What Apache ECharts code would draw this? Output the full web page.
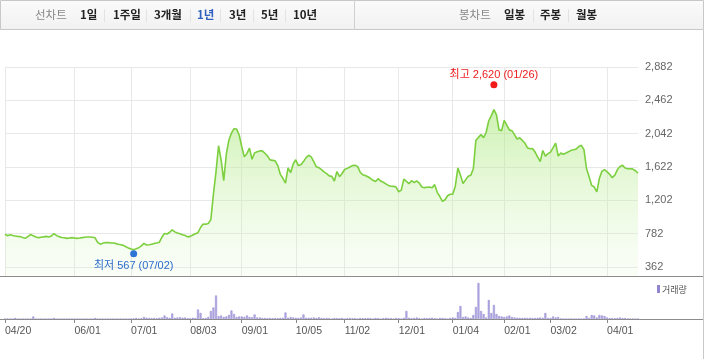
<!DOCTYPE html>
<html>
<head>
<meta charset="utf-8">
<script src="https://cdn.jsdelivr.net/npm/echarts@6/dist/echarts.min.js"></script>
<style>
html,body{margin:0;padding:0;background:#fff;}
#chart{width:705px;height:359px;}
</style>
</head>
<body>
<div id="chart"></div>
<script>
// ---- data ----
const startDate = '2020-04-20';
const endDate = '2021-04-19';
const holidays = ['2020-04-30','2020-05-01','2020-05-05','2020-08-17','2020-09-30','2020-10-01','2020-10-02','2020-10-09','2020-12-25','2020-12-31','2021-01-01','2021-02-11','2021-02-12','2021-03-01'];
const tickDates = ['2020-04-20','2020-06-01','2020-07-01','2020-08-03','2020-09-01','2020-10-05','2020-11-02','2020-12-01','2021-01-04','2021-02-01','2021-03-02','2021-04-01'];
const yTickValues = [362, 782, 1202, 1622, 2042, 2462, 2882];
const prices = [
774,757,770,760,752,748,745,732,725,748,
772,755,740,732,738,742,748,740,752,784,
760,745,735,730,723,728,732,728,723,727,
732,738,740,740,738,730,672,650,662,670,
672,666,664,660,648,642,635,618,600,590,
580,592,606,628,660,640,642,648,660,664,
675,740,785,778,800,830,805,790,782,770,
760,742,748,765,782,795,860,905,900,910,
960,1280,1560,1890,1710,1450,1780,1960,2050,2105,
2100,2025,1880,1750,1790,1860,1720,1800,1815,1825,
1825,1795,1760,1712,1706,1700,1640,1530,1480,1420,
1610,1550,1660,1714,1640,1650,1690,1740,1770,1750,
1690,1625,1614,1590,1560,1538,1510,1504,1446,1565,
1500,1540,1590,1605,1622,1640,1645,1630,1560,1525,
1515,1500,1480,1455,1440,1475,1445,1430,1410,1390,
1380,1378,1370,1310,1330,1470,1440,1412,1450,1425,
1446,1420,1370,1362,1368,1370,1362,1400,1300,1250,
1190,1210,1260,1278,1278,1380,1610,1520,1415,1460,
1505,1517,1600,1960,1995,2030,1992,2060,2205,2270,
2345,2280,2090,2080,2210,2150,2090,2080,2030,1975,
1990,1960,1925,1866,1853,1855,1811,1750,1690,1830,
1760,1790,1810,1866,1924,1760,1798,1782,1798,1815,
1832,1840,1850,1880,1895,1840,1600,1500,1390,1370,
1310,1480,1570,1588,1560,1530,1488,1520,1590,1628,
1643,1610,1601,1600,1595,1575,1545
];
const volumes = [
0.3,0.5,0,0,1,0,0,0,0,0,
0,2.5,0,0,0,0,0,0,0,1,
0,0,0,0,0,0,0,0,0,0,
0,0,0,0,0,1,0,0,0,0,
0,0,0,0,0,0,0,0,0,0.3,
0.5,1,0.5,0.7,2,1.2,1,0.8,1,0.7,
1.2,1.5,3.5,1.8,1.2,5.5,1.2,1.5,1.8,1.3,
1.5,0.8,0.7,1.2,1,9.5,6,0.8,1,2,
8,11.5,23.5,2.8,3.5,2,2.5,4,8.5,5,
2,2.5,2.5,2,3.5,2,1.8,4.5,1.5,1.5,
1,1,0.8,1,0.8,1,0.8,1,1.2,6.5,
1.2,2,1.5,1.2,1,1.5,4.5,1.2,1.2,1.2,
1.5,1,1.8,1,0.8,1,0.8,0,1,0.8,
0.8,1,0,0.8,1,0.8,0.8,0,1,0.8,
0.8,1,0.8,0,1,0.8,0,0.8,1.2,0.8,
0.8,0,1,0.8,0,1.2,8,1.2,0.8,1,
1.5,0.8,0,1,0.8,1,1.2,0.8,0,1,
1,0.8,0,1,1.5,1,7,13,2,2.5,
1.5,1,4,12,36,8,5,1.5,19,6,
14,5,3,2.5,2,2.5,3.5,2,1.5,1.2,
1.2,1,1.2,1,1.2,1,1,1.2,1.5,1.2,
6,1,1,2.5,1.5,2,0.5,0,0,0,
0.3,0,0,0.3,0,0.5,3,1,4,3.5,
1.5,4,3.5,3,1.5,0.8,1,0.8,1,1.5,
0.8,1,0.5,0.5,0,0,0
];
const highPoint = { date: '2021-01-26', value: 2620 };
const lowPoint = { date: '2020-07-02', value: 567 };

// ---- trading-day categories ----
function buildDates() {
  const out = [];
  const d = new Date(startDate + 'T00:00:00Z');
  const end = new Date(endDate + 'T00:00:00Z');
  while (d <= end) {
    const wd = d.getUTCDay();
    const s = d.toISOString().slice(0, 10);
    if (wd !== 0 && wd !== 6 && holidays.indexOf(s) < 0) out.push(s);
    d.setUTCDate(d.getUTCDate() + 1);
  }
  return out;
}
const dates = buildDates();
const tickSet = new Set(tickDates);
const isTick = (i, v) => tickSet.has(v);
const mmdd = v => v.slice(5).replace('-', '/');
const fmtNum = v => String(v).replace(/\B(?=(\d{3})+(?!\d))/g, ',');

const KR = '"Noto Sans CJK KR", sans-serif';
const LAT = '"Liberation Sans", Arial, "Noto Sans CJK KR", sans-serif';

// header texts
const headerItems = [
  { t: '선차트', x: 35, c: '#888', w: 'normal' },
  { t: '1일', x: 80, c: '#222', w: 'bold' },
  { t: '|', x: 103, c: '#ddd', w: 'normal' },
  { t: '1주일', x: 113, c: '#222', w: 'bold' },
  { t: '|', x: 145, c: '#ddd', w: 'normal' },
  { t: '3개월', x: 154, c: '#222', w: 'bold' },
  { t: '|', x: 189, c: '#ddd', w: 'normal' },
  { t: '1년', x: 197, c: '#2f5fbf', w: 'bold' },
  { t: '|', x: 219, c: '#ddd', w: 'normal' },
  { t: '3년', x: 229, c: '#222', w: 'bold' },
  { t: '|', x: 252, c: '#ddd', w: 'normal' },
  { t: '5년', x: 261, c: '#222', w: 'bold' },
  { t: '|', x: 284, c: '#ddd', w: 'normal' },
  { t: '10년', x: 293, c: '#222', w: 'bold' },
  { t: '봉차트', x: 459, c: '#888', w: 'normal' },
  { t: '일봉', x: 504, c: '#222', w: 'bold' },
  { t: '|', x: 532, c: '#ddd', w: 'normal' },
  { t: '주봉', x: 540, c: '#222', w: 'bold' },
  { t: '|', x: 567, c: '#ddd', w: 'normal' },
  { t: '월봉', x: 576, c: '#222', w: 'bold' }
];

const graphics = [
  { type: 'rect', shape: { x: 0.5, y: 0.5, width: 703, height: 29 },
    style: { fill: new echarts.graphic.LinearGradient(0, 0, 0, 1, [{ offset: 0, color: '#fbfbfb' }, { offset: 1, color: '#f1f1f1' }]), stroke: '#c8c8c8', lineWidth: 1 }, silent: true },
  { type: 'line', shape: { x1: 354.5, y1: 0, x2: 354.5, y2: 30 }, style: { stroke: '#d0d0d0', lineWidth: 1 }, silent: true },
  { type: 'line', shape: { x1: 703.5, y1: 30, x2: 703.5, y2: 359 }, style: { stroke: '#c8c8c8', lineWidth: 1 }, silent: true },
  { type: 'line', shape: { x1: 0, y1: 276.5, x2: 703, y2: 276.5 }, style: { stroke: '#8c8c8c', lineWidth: 1.2 }, silent: true, z: 10 },
  { type: 'line', shape: { x1: 0, y1: 319.5, x2: 703, y2: 319.5 }, style: { stroke: '#8c8c8c', lineWidth: 1 }, silent: true, z: 10 },
  { type: 'rect', shape: { x: 657, y: 285, width: 3, height: 8 }, style: { fill: '#8f86cf' }, silent: true },
  { type: 'text', x: 662, y: 289.5, style: { text: '거래량', fill: '#555', font: '9px ' + KR, verticalAlign: 'middle' }, silent: true }
];
headerItems.forEach(h => {
  graphics.push({ type: 'text', x: h.x, y: 15, silent: true,
    style: { text: h.t, fill: h.c, font: h.w + ' 11.5px ' + KR, verticalAlign: 'middle' } });
});

const chart = echarts.init(document.getElementById('chart'), null, { renderer: 'canvas' });
chart.setOption({
  animation: false,
  backgroundColor: '#fff',
  graphic: graphics,
  grid: [
    { left: 5, top: 67, width: 633, height: 209 },
    { left: 5, top: 281, width: 633, height: 38 }
  ],
  xAxis: [
    { type: 'category', gridIndex: 0, data: dates, boundaryGap: false,
      axisLine: { show: false }, axisTick: { show: false }, axisLabel: { show: false },
      splitLine: { show: true, interval: isTick, lineStyle: { color: '#e8e8e8', width: 1 } } },
    { type: 'category', gridIndex: 1, data: dates, boundaryGap: false,
      axisLine: { show: false },
      axisTick: { show: true, interval: isTick, length: 4, lineStyle: { color: '#888' } },
      axisLabel: { show: true, interval: isTick, formatter: mmdd, align: 'left', margin: 7,
        color: '#555', fontSize: 10.5, fontFamily: LAT },
      splitLine: { show: false } }
  ],
  yAxis: [
    { type: 'value', gridIndex: 0, position: 'right', min: 249, max: 2882,
      axisLine: { show: false },
      axisTick: { show: false, customValues: yTickValues },
      axisLabel: { show: true, customValues: yTickValues, margin: 7, color: '#666', fontSize: 11, fontFamily: LAT,
        formatter: v => fmtNum(v) },
      splitLine: { show: true, lineStyle: { color: '#e8e8e8', width: 1 } } },
    { type: 'value', gridIndex: 1, min: 0, max: 38, show: false, splitLine: { show: false } }
  ],
  series: [
    { type: 'line', xAxisIndex: 0, yAxisIndex: 0, data: prices, symbol: 'none', smooth: false,
      lineStyle: { color: '#7ccf3e', width: 1.6 },
      areaStyle: { origin: 'start', color: new echarts.graphic.LinearGradient(0, 0, 0, 1, [
        { offset: 0, color: 'rgba(165,230,115,0.78)' },
        { offset: 1, color: 'rgba(225,248,210,0.25)' }]) },
      markPoint: {
        symbol: 'circle', symbolSize: 7, silent: true,
        data: [
          { coord: [highPoint.date, highPoint.value], symbolOffset: [0, -3],
            itemStyle: { color: '#f01a1a' },
            label: { show: true, position: 'top', distance: 1, color: '#ee1c1c', fontSize: 11, fontFamily: LAT,
              formatter: '최고 ' + fmtNum(highPoint.value) + ' (' + mmdd(highPoint.date) + ')' } },
          { coord: [lowPoint.date, lowPoint.value], symbolOffset: [0, 3],
            itemStyle: { color: '#2c74d6' },
            label: { show: true, position: 'bottom', distance: 3, color: '#2c6ccc', fontSize: 11, fontFamily: LAT,
              formatter: '최저 ' + fmtNum(lowPoint.value) + ' (' + mmdd(lowPoint.date) + ')' } }
        ]
      } },
    { type: 'bar', xAxisIndex: 1, yAxisIndex: 1, data: volumes, barWidth: 2,
      itemStyle: { color: '#b3aae2', borderColor: '#9389d0', borderWidth: 0.5 } }
  ]
});
</script>
</body>
</html>
